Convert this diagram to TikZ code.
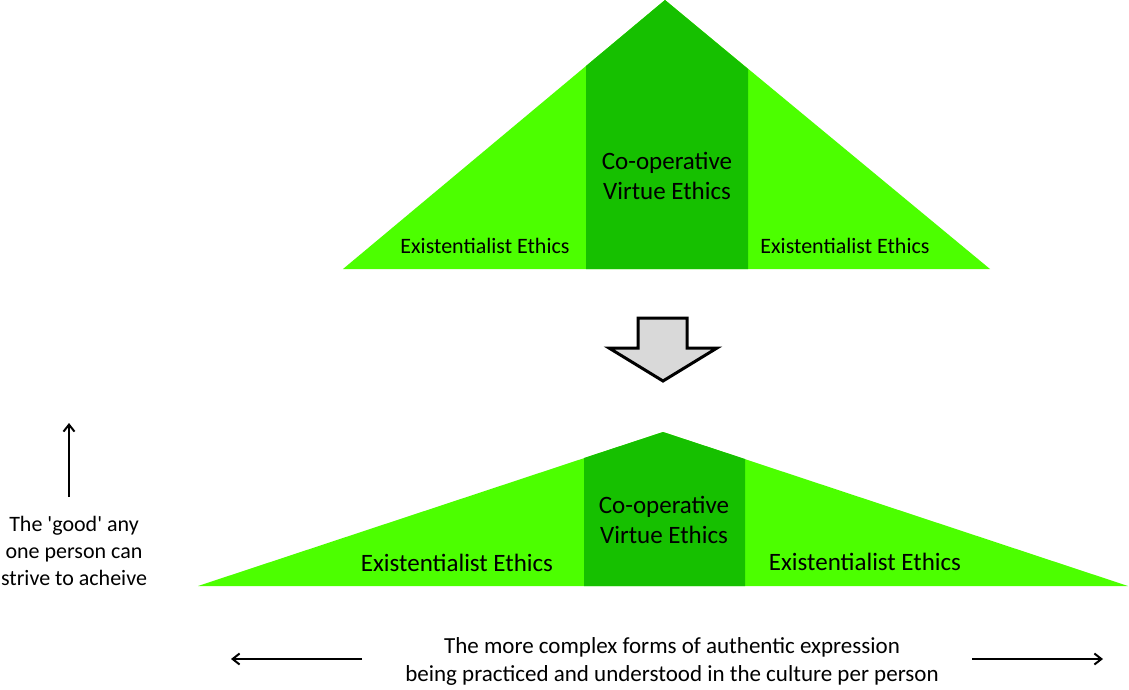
\documentclass[tikz,border=0pt]{standalone}
\usepackage{fontspec}
\setmainfont{Carlito}
\usetikzlibrary{arrows.meta}
\definecolor{lightg}{RGB}{76,255,0}
\definecolor{darkg}{RGB}{22,192,0}
\definecolor{arrowgray}{RGB}{217,217,217}
\tikzset{
  lbl/.style={inner sep=0pt, align=center, text=black},
  axis/.style={line width=2pt, -{Straight Barb[length=7pt,width=11pt,line width=2pt]}},
}
\begin{document}
\begin{tikzpicture}[x=1pt,y=-1pt]
\useasboundingbox (0,0) rectangle (1129,689);
% top triangle
\fill[lightg] (343,269) -- (665,0) -- (990,269) -- cycle;
\fill[darkg] (586,269) -- (586,66) -- (665,0) -- (748,69) -- (748,269) -- cycle;
% bottom triangle
\fill[lightg] (198,586) -- (663,432) -- (1128,586) -- cycle;
\fill[darkg] (584,586) -- (584,458) -- (663,432) -- (745,459) -- (745,586) -- cycle;
% labels top
\node[lbl, font=\fontsize{22}{26}\selectfont] (tl) at (485,246) {Existentialist Ethics};
\node[lbl, font=\fontsize{22}{26}\selectfont] (tr) at (845,246) {Existentialist Ethics};
\node[lbl, font=\fontsize{25}{30}\selectfont] (tc) at (667,176) {Co-operative\\Virtue Ethics};
% labels bottom
\node[lbl, font=\fontsize{25}{30}\selectfont] (bl) at (457,563) {Existentialist Ethics};
\node[lbl, font=\fontsize{25}{30}\selectfont] (br) at (865,562) {Existentialist Ethics};
\node[lbl, font=\fontsize{25}{30}\selectfont] (bc) at (664,520) {Co-operative\\Virtue Ethics};
% down block arrow
\draw[line width=3pt, fill=arrowgray, line join=miter] (638,318) -- (687,318) -- (687,348) -- (717,348) -- (663,381) -- (609,348) -- (638,348) -- cycle;
\coordinate (blockarrow) at (663,350);
% left axis
\node[lbl, font=\fontsize{22}{27}\selectfont] (good) at (74,551) {The \textquotesingle good\textquotesingle\ any\\one person can\\strive to acheive};
\coordinate (upstart) at (69,497);
\coordinate (upend) at (69,423);
\draw[axis] (upstart) -- (upend);
% bottom axis
\node[lbl, font=\fontsize{23}{28}\selectfont] (complex) at (672,661) {The more complex forms of authentic expression\\being practiced and understood in the culture per person};
\coordinate (lstart) at (362,659);
\coordinate (lend) at (231,659);
\coordinate (rstart) at (972,659);
\coordinate (rend) at (1103,659);
\draw[axis] (lstart) -- (lend);
\draw[axis] (rstart) -- (rend);
\end{tikzpicture}
\end{document}
